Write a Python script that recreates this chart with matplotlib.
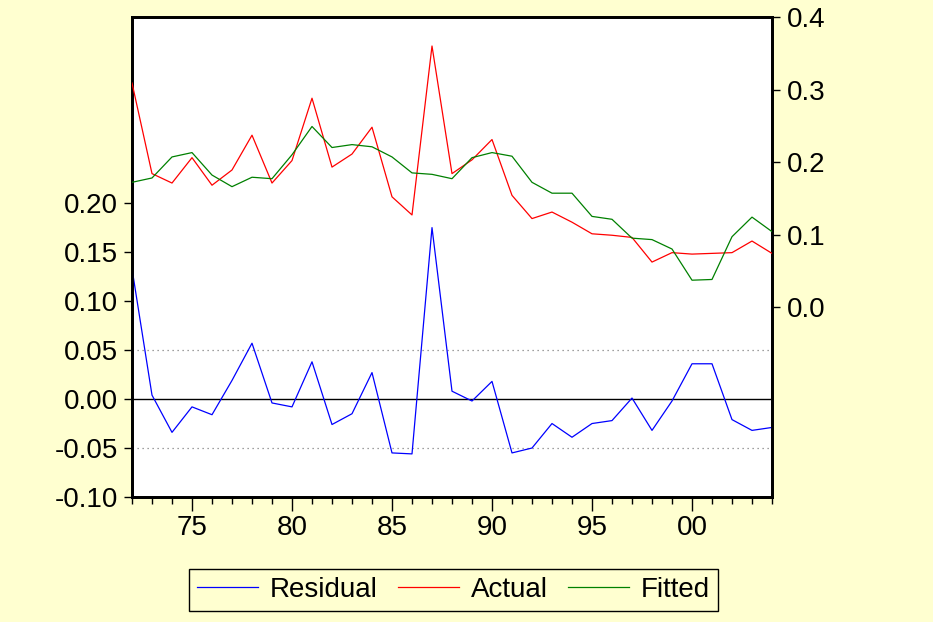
import numpy as np
import matplotlib
matplotlib.use("Agg")
import matplotlib.pyplot as plt
from matplotlib.lines import Line2D

years = list(range(1972, 2005))

residual = [0.133, 0.004, -0.034, -0.008, -0.016, 0.019, 0.057, -0.004, -0.008, 0.038,
            -0.026, -0.015, 0.027, -0.055, -0.056, 0.175, 0.008, -0.002, 0.018, -0.055,
            -0.050, -0.025, -0.039, -0.025, -0.022, 0.001, -0.032, -0.002, 0.036, 0.036,
            -0.021, -0.032, -0.029]

actual = [0.309, 0.184, 0.171, 0.206, 0.168, 0.189, 0.237, 0.171, 0.202, 0.288,
          0.193, 0.211, 0.248, 0.152, 0.127, 0.360, 0.184, 0.203, 0.231, 0.154,
          0.122, 0.131, 0.117, 0.101, 0.099, 0.096, 0.062, 0.075, 0.073, 0.074,
          0.075, 0.091, 0.074]

fitted = [0.172, 0.178, 0.207, 0.213, 0.182, 0.166, 0.179, 0.177, 0.210, 0.249,
          0.220, 0.224, 0.221, 0.207, 0.185, 0.183, 0.177, 0.206, 0.213, 0.208,
          0.172, 0.157, 0.157, 0.125, 0.121, 0.095, 0.093, 0.080, 0.037, 0.038,
          0.097, 0.124, 0.104]

left_ticks = [-0.10, -0.05, 0.00, 0.05, 0.10, 0.15, 0.20]
right_ticks = [0.0, 0.1, 0.2, 0.3, 0.4]
major_years = [1975, 1980, 1985, 1990, 1995, 2000]

bg = "#FFFFD0"
fs = 20

plt.rcParams['font.family'] = ['Liberation Sans', 'DejaVu Sans']

fig = plt.figure(figsize=(9.33, 6.22), dpi=100, facecolor=bg)
ax = fig.add_axes([132/933, 125/622, 640/933, 480/622])
ax.set_facecolor("white")

# zero line and +/- 0.05 guides on the residual scale
ax.axhline(0.0, color="black", lw=1.0, zorder=1)
ax.axhline(0.05, color="gray", lw=0.9, ls=(0, (1, 3)), zorder=1)
ax.axhline(-0.05, color="gray", lw=0.9, ls=(0, (1, 3)), zorder=1)
ax.plot(years, residual, color="#0000FF", lw=0.9, zorder=3)

ax.set_xlim(1972, 2004)
ax.set_ylim(-0.10, 0.39)
ax.set_yticks(left_ticks)
ax.set_yticklabels(["%.2f" % v for v in left_ticks])
ax.set_xticks(major_years)
ax.set_xticklabels(["%02d" % (y % 100) for y in major_years])
ax.set_xticks(years, minor=True)

ax2 = ax.twinx()
ax2.plot(years, actual, color="#FF0000", lw=0.9, zorder=3)
ax2.plot(years, fitted, color="#008000", lw=0.9, zorder=4)
ax2.set_ylim(-0.262, 0.40)
ax2.set_yticks(right_ticks)
ax2.set_yticklabels(["%.1f" % v for v in right_ticks])

for a in (ax, ax2):
    for s in a.spines.values():
        s.set_linewidth(2.0)
        s.set_color("black")

ax.tick_params(axis="y", which="major", length=6, width=1, pad=4, labelsize=fs)
ax.tick_params(axis="x", which="major", length=10, width=1, pad=3, labelsize=fs)
ax.tick_params(axis="x", which="minor", length=5, width=1)
ax2.tick_params(axis="y", which="major", length=6, width=1, pad=5, labelsize=fs)

handles = [Line2D([], [], color="#0000FF", lw=0.9),
           Line2D([], [], color="#FF0000", lw=0.9),
           Line2D([], [], color="#008000", lw=0.9)]
leg = fig.legend(handles, ["Residual", "Actual", "Fitted"], loc="center",
                 bbox_to_anchor=(453.5/933, 32/622), ncol=3, fontsize=fs,
                 frameon=True, fancybox=False, handlelength=2.2,
                 handletextpad=0.43, columnspacing=0.72, borderpad=0.3,
                 borderaxespad=0)
leg.get_frame().set_edgecolor("black")
leg.get_frame().set_facecolor(bg)
leg.get_frame().set_linewidth(1.0)
leg.get_frame().set_alpha(1)

fig.savefig("out.png", dpi=100, facecolor=bg)
